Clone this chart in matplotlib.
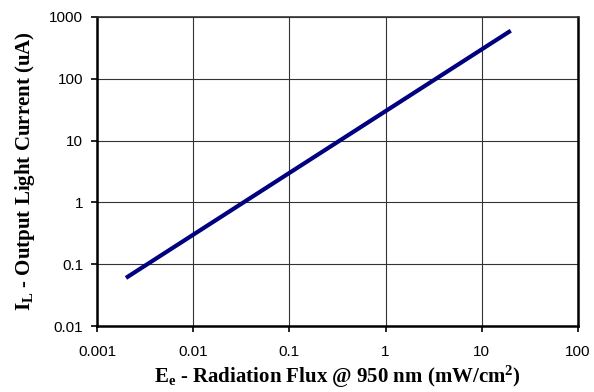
import matplotlib
matplotlib.use('Agg')
import matplotlib.pyplot as plt
from matplotlib.ticker import FixedLocator, FixedFormatter, NullLocator

# radiation flux (mW/cm^2) and light current (uA)
flux = [0.002, 20]
current = [0.06, 600]

x_ticks = [0.001, 0.01, 0.1, 1, 10, 100]
x_labels = ['0.001', '0.01', '0.1', '1', '10', '100']
y_ticks = [0.01, 0.1, 1, 10, 100, 1000]
y_labels = ['0.01', '0.1', '1', '10', '100', '1000']

plt.rcParams['mathtext.fontset'] = 'custom'
plt.rcParams['mathtext.rm'] = 'Liberation Serif:bold'
plt.rcParams['mathtext.bf'] = 'Liberation Serif:bold'
plt.rcParams['mathtext.it'] = 'Liberation Serif:bold'

fig = plt.figure(figsize=(5.94, 3.92), dpi=100)
ax = fig.add_axes([97 / 594, 1 - 326 / 392, (578 - 97) / 594, (326 - 17) / 392])

ax.plot(flux, current, color='#000080', linewidth=3, solid_capstyle='butt')

ax.set_xscale('log')
ax.set_yscale('log')
ax.set_xlim(0.001, 100)
ax.set_ylim(0.01, 1000)

ax.xaxis.set_major_locator(FixedLocator(x_ticks))
ax.xaxis.set_major_formatter(FixedFormatter(x_labels))
ax.yaxis.set_major_locator(FixedLocator(y_ticks))
ax.yaxis.set_major_formatter(FixedFormatter(y_labels))
ax.xaxis.set_minor_locator(NullLocator())
ax.yaxis.set_minor_locator(NullLocator())

ax.grid(True, color='#333333', linewidth=0.8)
ax.tick_params(direction='out', length=4, width=1.2, labelsize=11)
ax.tick_params(axis='x', pad=10)
ax.tick_params(axis='y', pad=6)
for lbl in ax.get_xticklabels() + ax.get_yticklabels():
    lbl.set_family('Liberation Sans')

ax.spines['left'].set_linewidth(1.8)
ax.spines['bottom'].set_linewidth(1.8)
ax.spines['right'].set_linewidth(1.8)
ax.spines['top'].set_linewidth(1.2)
ax.spines['top'].set_color('#333333')

ax.set_xlabel(r'$\mathrm{E_e}$ - Radiation Flux @ 950 nm (mW/cm$^\mathrm{2}$)',
              family='Liberation Serif', fontweight='bold', fontsize=15, labelpad=3)
ax.set_ylabel(r'$\mathrm{I_L}$ - Output Light Current (uA)',
              family='Liberation Serif', fontweight='bold', fontsize=15, labelpad=9)

fig.savefig('out.png', dpi=100)
